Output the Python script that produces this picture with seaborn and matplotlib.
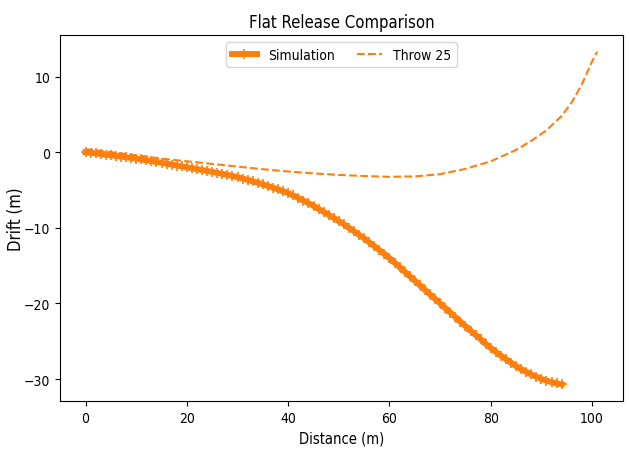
import matplotlib
matplotlib.use("Agg")
import matplotlib.pyplot as plt
import seaborn as sns
import pandas as pd

# Simulated flight path (distance downrange vs. lateral drift), metres
sim_distance = [0, 1, 2, 3, 4, 5, 6, 7, 8, 9, 10, 11, 12, 13, 14, 15, 16, 17, 18, 19,
                20, 21, 22, 23, 24, 25, 26, 27, 28, 29, 30, 31, 32, 33, 34, 35, 36, 37, 38, 39,
                40, 41, 42, 43, 44, 45, 46, 47, 48, 49, 50, 51, 52, 53, 54, 55, 56, 57, 58, 59,
                60, 61, 62, 63, 64, 65, 66, 67, 68, 69, 70, 71, 72, 73, 74, 75, 76, 77, 78, 79,
                80, 81, 82, 83, 84, 85, 86, 87, 88, 89, 90, 91, 92, 93, 94]
sim_drift = [0.00, -0.08, -0.16, -0.24, -0.32, -0.40, -0.49, -0.58, -0.67, -0.76,
             -0.85, -0.96, -1.07, -1.18, -1.29, -1.40, -1.52, -1.64, -1.76, -1.88,
             -2.00, -2.12, -2.24, -2.36, -2.48, -2.60, -2.73, -2.86, -3.00, -3.15,
             -3.30, -3.48, -3.66, -3.85, -4.05, -4.25, -4.47, -4.69, -4.92, -5.16,
             -5.40, -5.72, -6.05, -6.39, -6.74, -7.10, -7.49, -7.88, -8.28, -8.69,
             -9.10, -9.55, -10.00, -10.46, -10.93, -11.40, -11.91, -12.42, -12.94, -13.47,
             -14.00, -14.60, -15.20, -15.80, -16.40, -17.00, -17.60, -18.20, -18.80, -19.40,
             -20.00, -20.60, -21.20, -21.80, -22.40, -23.00, -23.59, -24.17, -24.75, -25.33,
             -25.90, -26.41, -26.90, -27.38, -27.85, -28.30, -28.70, -29.06, -29.39, -29.70,
             -30.00, -30.22, -30.42, -30.58, -30.70]

# Measured throw number 25
throw_distance = [0, 5, 10, 15, 20, 25, 30, 35, 40, 45, 50, 55, 60, 65, 70, 75,
                  80, 85, 88, 91, 94, 96, 98, 100, 101]
throw_drift = [0.40, 0.00, -0.40, -0.85, -1.20, -1.55, -1.90, -2.25, -2.55, -2.80,
               -3.00, -3.15, -3.25, -3.20, -2.90, -2.20, -1.20, 0.30, 1.50, 2.90,
               4.80, 6.60, 9.00, 12.00, 13.30]

sim = pd.DataFrame({"Distance": sim_distance, "Drift": sim_drift})
throw = pd.DataFrame({"Distance": throw_distance, "Drift": throw_drift})

color = "#ff7f0e"

plt.rcParams["font.family"] = ["DejaVu Sans"]
plt.rcParams["font.stretch"] = "condensed"
plt.rcParams["font.size"] = 10
plt.rcParams["axes.titlesize"] = 12
plt.rcParams["xtick.labelsize"] = 10
plt.rcParams["ytick.labelsize"] = 10
plt.rcParams["legend.fontsize"] = 10

fig = plt.figure(figsize=(6.29, 4.60), dpi=100)
ax = fig.add_axes([0.0954, 0.1261, 0.8946, 0.7956])

sns.lineplot(data=sim, x="Distance", y="Drift", ax=ax, sort=False,
             color=color, linewidth=4.3, marker="+", markersize=7,
             markeredgewidth=1.2, markeredgecolor=color, label="Simulation")
sns.lineplot(data=throw, x="Distance", y="Drift", ax=ax, sort=False,
             color=color, linewidth=1.5, linestyle="--", label="Throw 25")

ax.set_title("Flat Release Comparison")
ax.set_xlabel("Distance (m)", fontsize=10.5)
ax.set_ylabel("Drift (m)", fontsize=12)
ax.yaxis.set_label_coords(-0.062, 0.5)
ax.legend(loc="upper center", ncol=2, handlelength=1.8, columnspacing=1.6)

fig.savefig("out.png", dpi=100)
